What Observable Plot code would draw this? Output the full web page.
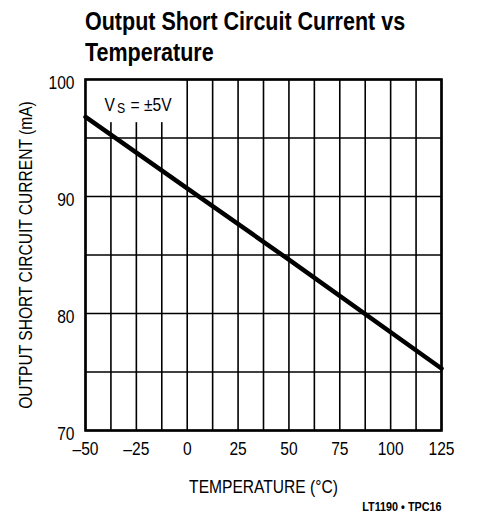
<!DOCTYPE html>
<html><head><meta charset="utf-8">
<script src="https://cdn.jsdelivr.net/npm/d3@7"></script>
<script src="https://cdn.jsdelivr.net/npm/@observablehq/plot@0.6"></script>
<style>
body{margin:0;background:#fff;width:496px;height:525px;overflow:hidden;font-family:"Liberation Sans",Arial,sans-serif;}
#title{position:relative;height:70px;}
#title div{position:absolute;left:85px;top:6px;}
#title span{display:inline-block;transform:scaleX(0.86);transform-origin:0 0;font-weight:bold;font-size:25px;line-height:31px;white-space:nowrap;color:#000;}
</style></head>
<body>
<div id="title"><div><span>Output Short Circuit Current vs<br>Temperature</span></div></div>
<div id="chart"></div>
<script>
const temperature = [-50, 0, 50, 125];
const current = [96.8, 90.7, 84.6, 75.3];
const xTicks = [-50, -25, 0, 25, 50, 75, 100, 125];
const yTicks = [70, 80, 90, 100];
const xGrid = d3.range(-50, 125.1, 12.5);
const yGrid = d3.range(70, 100.1, 5);
const xLabel = "TEMPERATURE (°C)";
const yLabel = "OUTPUT SHORT CIRCUIT CURRENT (mA)";
const note = "LT1190 • TPC16";
const vsLabel = ["V", "S", "= \u00b15V"];

const data = temperature.map((t, i) => ({t, c: current[i]}));
const font = '"Liberation Sans",Arial,sans-serif';

const chart = Plot.plot({
  width: 496, height: 455,
  marginLeft: 85, marginRight: 55, marginTop: 9, marginBottom: 95,
  style: {fontFamily: font, fontSize: "19px", color: "#000", background: "#fff"},
  x: {domain: [-50, 125]},
  y: {domain: [70, 100]},
  marks: [
    Plot.ruleX(xGrid, {stroke: "#000", strokeWidth: 1.6}),
    Plot.ruleY(yGrid, {stroke: "#000", strokeWidth: 1.6}),
    Plot.frame({stroke: "#000", strokeWidth: 2.6}),
    Plot.axisX({ticks: xTicks, tickSize: 0, tickPadding: 11, fontSize: 19, tickFormat: d => d < 0 ? "\u2013" + Math.abs(d) : String(d),
      label: xLabel, labelAnchor: "center", labelArrow: "none", labelOffset: 62}),
    Plot.axisY({ticks: yTicks, tickSize: 0, tickPadding: 11, fontSize: 19, dy: 3,
      label: yLabel, labelAnchor: "center", labelArrow: "none", labelOffset: 67}),
    Plot.text([vsLabel[0]], {frameAnchor: "top-left", dx: 19, dy: 18, text: d => d, textAnchor: "start", fontSize: 19, className: "vs"}),
    Plot.text([vsLabel[1]], {frameAnchor: "top-left", dx: 31.5, dy: 23, text: d => d, textAnchor: "start", fontSize: 15, className: "vs"}),
    Plot.text([vsLabel[2]], {frameAnchor: "top-left", dx: 45, dy: 18, text: d => d, textAnchor: "start", fontSize: 19, className: "vs"}),
    Plot.line(data, {x: "t", y: "c", stroke: "#000", strokeWidth: 4.5}),
    Plot.text([note], {frameAnchor: "bottom-right", dy: 80, textAnchor: "end", fontSize: 12, fontWeight: "bold", text: d => d, className: "note"})
  ]
});
document.getElementById("chart").appendChild(chart);
const svg = d3.select(chart);

svg.selectAll("text").filter(function(){return this.textContent===xLabel||this.textContent===yLabel;}).attr("font-size", 19);

// condensed lettering (narrow grotesque look)
function condense(el, f) {
  const w = el.getComputedTextLength();
  if (w > 0) { el.setAttribute("textLength", w * f); el.setAttribute("lengthAdjust", "spacingAndGlyphs"); }
}
svg.selectAll("text").each(function() {
  condense(this, this.closest("g.note") ? 0.9 : 0.82);
});

// white label box behind V_S, masking the grid lines
try {
  const xs = chart.scale("x"), ys = chart.scale("y");
  const fx0 = Math.min(...xs.range), fy0 = Math.min(...ys.range);
  const cb = chart.getBoundingClientRect();
  let right = -Infinity, bottom = -Infinity;
  chart.querySelectorAll("g.vs text").forEach(n => {
    const b = n.getBoundingClientRect();
    right = Math.max(right, b.right - cb.left);
    bottom = Math.max(bottom, b.bottom - cb.top);
  });
  const frameEl = chart.querySelector('[aria-label="frame"]');
  const r = document.createElementNS("http://www.w3.org/2000/svg", "rect");
  r.setAttribute("x", fx0);
  r.setAttribute("y", fy0);
  r.setAttribute("width", Math.max(0, right + 8 - fx0));
  r.setAttribute("height", Math.max(0, bottom + 6 - fy0));
  r.setAttribute("fill", "#fff");
  let anchor = frameEl;
  while (anchor && anchor.parentNode !== chart) anchor = anchor.parentNode;
  chart.insertBefore(r, anchor || null);
} catch (e) { console.error(e); }
</script>
</body></html>
